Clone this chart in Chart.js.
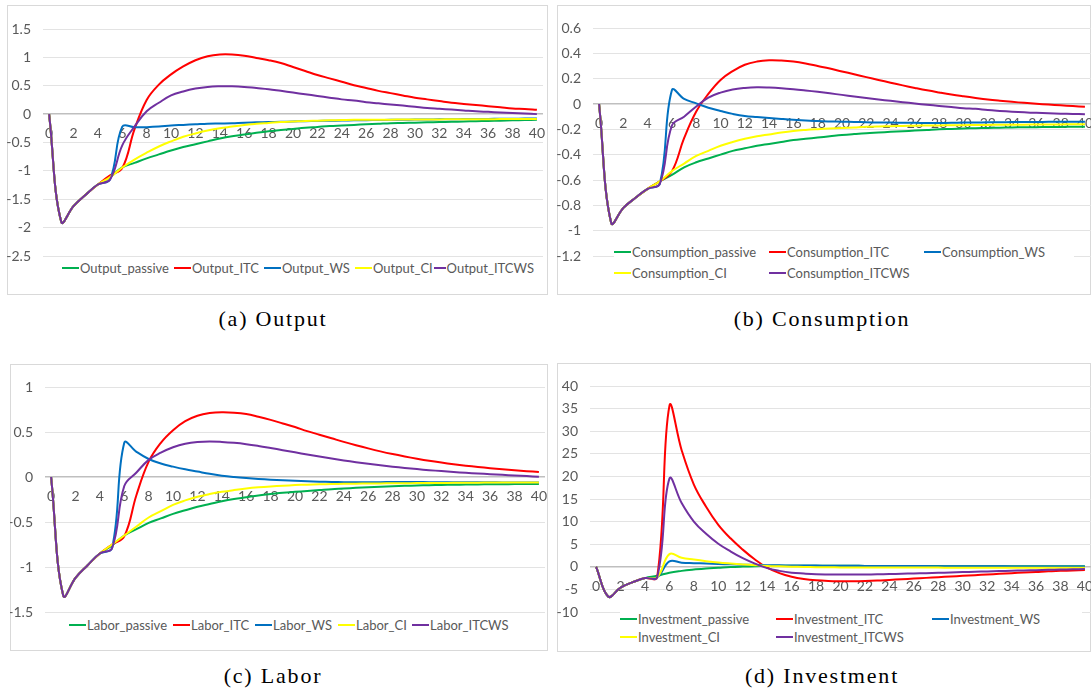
<!DOCTYPE html>
<html>
<head>
<meta charset="utf-8">
<script src="https://cdn.jsdelivr.net/npm/chart.js@4.4.1/dist/chart.umd.min.js"></script>
<style>
  body { margin: 0; width: 1091px; height: 692px; overflow: hidden; position: relative; background: #fff; font-family: Lato, sans-serif; }
  .box { position: absolute; border: 1px solid #d9d9d9; box-sizing: border-box; }
  canvas { position: absolute; }
  .legend { position: absolute; display: grid; color: #595959; font-size: 13px; background: #fff; }
  .item { display: flex; align-items: center; white-space: nowrap; }
  .item i { display: inline-block; width: 17px; height: 2px; margin-right: 1px; }
  .cap { position: absolute; font-family: "Liberation Serif", serif; font-size: 22px; letter-spacing: 1.8px; transform: translate(-50%, -50%); white-space: nowrap; }
</style>
</head>
<body>
<script>
// periods 0..40
const periods = Array.from({ length: 41 }, (_, i) => i);
const seriesNames = ["passive", "ITC", "WS", "CI", "ITCWS"];
const colors = ["#00b050", "#ff0000", "#0070c0", "#ffff00", "#7030a0"];

// (a) Output
const outputPassive = [0,-1.9,-1.62,-1.42,-1.24,-1.11,-0.94,-0.86,-0.78,-0.71,-0.64,-0.58,-0.53,-0.48,-0.43,-0.39,-0.36,-0.33,-0.3,-0.28,-0.26,-0.24,-0.225,-0.21,-0.2,-0.19,-0.18,-0.17,-0.16,-0.155,-0.15,-0.145,-0.14,-0.135,-0.13,-0.125,-0.12,-0.115,-0.11,-0.105,-0.1];
const outputITC = [0,-1.9,-1.62,-1.42,-1.24,-1.08,-0.95,-0.27,0.25,0.52,0.7,0.84,0.95,1.02,1.05,1.05,1.03,0.99,0.95,0.9,0.83,0.76,0.69,0.63,0.57,0.51,0.46,0.41,0.37,0.33,0.29,0.26,0.23,0.2,0.18,0.16,0.14,0.12,0.1,0.09,0.075];
const outputWS = [0,-1.9,-1.62,-1.42,-1.24,-1.15,-0.22,-0.23,-0.23,-0.22,-0.2,-0.19,-0.18,-0.17,-0.165,-0.16,-0.15,-0.145,-0.14,-0.135,-0.13,-0.125,-0.12,-0.117,-0.114,-0.11,-0.107,-0.104,-0.1,-0.098,-0.096,-0.094,-0.092,-0.09,-0.088,-0.086,-0.084,-0.082,-0.08,-0.079,-0.078];
const outputCI = [0,-1.9,-1.62,-1.42,-1.24,-1.11,-0.94,-0.8,-0.68,-0.57,-0.48,-0.4,-0.34,-0.29,-0.25,-0.22,-0.19,-0.17,-0.155,-0.14,-0.13,-0.12,-0.115,-0.11,-0.105,-0.1,-0.1,-0.098,-0.097,-0.096,-0.095,-0.094,-0.093,-0.092,-0.091,-0.09,-0.089,-0.088,-0.087,-0.086,-0.085];
const outputITCWS = [0,-1.9,-1.62,-1.42,-1.24,-1.15,-0.55,-0.22,0.05,0.2,0.33,0.4,0.45,0.48,0.49,0.49,0.48,0.46,0.44,0.41,0.38,0.35,0.32,0.29,0.26,0.24,0.21,0.19,0.17,0.15,0.13,0.11,0.095,0.08,0.065,0.05,0.04,0.03,0.02,0.01,0];

// (b) Consumption
const consPassive = [0,-0.94,-0.82,-0.74,-0.67,-0.61,-0.56,-0.5,-0.46,-0.43,-0.4,-0.37,-0.35,-0.33,-0.315,-0.3,-0.285,-0.275,-0.265,-0.255,-0.245,-0.237,-0.23,-0.225,-0.22,-0.215,-0.21,-0.205,-0.2,-0.197,-0.194,-0.191,-0.189,-0.187,-0.185,-0.184,-0.183,-0.182,-0.181,-0.18,-0.18];
const consITC = [0,-0.94,-0.82,-0.74,-0.67,-0.61,-0.53,-0.27,-0.06,0.08,0.19,0.26,0.31,0.335,0.345,0.343,0.335,0.32,0.3,0.28,0.257,0.235,0.212,0.19,0.168,0.147,0.127,0.108,0.091,0.075,0.061,0.048,0.036,0.026,0.017,0.009,0.002,-0.004,-0.01,-0.016,-0.022];
const consWS = [0,-0.94,-0.82,-0.74,-0.67,-0.63,0.11,0.04,0.005,-0.03,-0.055,-0.078,-0.095,-0.103,-0.11,-0.118,-0.125,-0.13,-0.135,-0.138,-0.14,-0.142,-0.144,-0.146,-0.147,-0.148,-0.149,-0.15,-0.15,-0.149,-0.147,-0.146,-0.145,-0.144,-0.143,-0.142,-0.142,-0.141,-0.141,-0.14,-0.14];
const consCI = [0,-0.94,-0.82,-0.74,-0.67,-0.61,-0.53,-0.47,-0.41,-0.37,-0.33,-0.3,-0.275,-0.255,-0.24,-0.225,-0.213,-0.205,-0.199,-0.194,-0.19,-0.185,-0.18,-0.177,-0.175,-0.173,-0.171,-0.17,-0.169,-0.168,-0.167,-0.166,-0.165,-0.164,-0.163,-0.163,-0.162,-0.161,-0.161,-0.16,-0.16];
const consITCWS = [0,-0.94,-0.82,-0.74,-0.67,-0.63,-0.17,-0.1,-0.02,0.05,0.09,0.115,0.127,0.132,0.13,0.125,0.117,0.107,0.096,0.084,0.072,0.06,0.048,0.036,0.025,0.014,0.004,-0.006,-0.015,-0.024,-0.033,-0.038,-0.048,-0.055,-0.061,-0.066,-0.07,-0.073,-0.076,-0.078,-0.08];

// (c) Labor
const laborPassive = [0,-1.32,-1.12,-0.98,-0.85,-0.76,-0.65,-0.58,-0.51,-0.46,-0.41,-0.37,-0.33,-0.3,-0.27,-0.245,-0.225,-0.205,-0.19,-0.175,-0.165,-0.155,-0.145,-0.135,-0.128,-0.12,-0.113,-0.107,-0.102,-0.098,-0.094,-0.091,-0.088,-0.086,-0.084,-0.082,-0.081,-0.08,-0.079,-0.078,-0.077];
const laborITC = [0,-1.32,-1.12,-0.98,-0.85,-0.75,-0.66,-0.2,0.17,0.38,0.52,0.62,0.68,0.71,0.72,0.715,0.7,0.67,0.635,0.595,0.555,0.51,0.47,0.43,0.39,0.353,0.318,0.285,0.255,0.228,0.203,0.18,0.16,0.142,0.126,0.111,0.098,0.086,0.075,0.065,0.055];
const laborWS = [0,-1.32,-1.12,-0.98,-0.85,-0.79,0.38,0.28,0.2,0.15,0.115,0.085,0.06,0.035,0.015,0,-0.012,-0.022,-0.03,-0.037,-0.043,-0.048,-0.052,-0.055,-0.057,-0.058,-0.058,-0.057,-0.056,-0.056,-0.056,-0.057,-0.057,-0.058,-0.058,-0.059,-0.059,-0.06,-0.06,-0.06,-0.06];
const laborCI = [0,-1.32,-1.12,-0.98,-0.85,-0.75,-0.65,-0.55,-0.45,-0.38,-0.31,-0.26,-0.22,-0.19,-0.165,-0.145,-0.128,-0.115,-0.105,-0.097,-0.09,-0.085,-0.081,-0.078,-0.076,-0.074,-0.072,-0.071,-0.07,-0.069,-0.068,-0.067,-0.066,-0.065,-0.064,-0.063,-0.062,-0.062,-0.061,-0.061,-0.06];
const laborITCWS = [0,-1.32,-1.12,-0.98,-0.85,-0.79,-0.1,0.05,0.19,0.27,0.33,0.37,0.39,0.395,0.39,0.38,0.365,0.345,0.322,0.298,0.274,0.25,0.227,0.205,0.184,0.164,0.146,0.13,0.115,0.101,0.088,0.076,0.066,0.056,0.047,0.039,0.031,0.024,0.017,0.01,0.004];

// (d) Investment
const invPassive = [0,-6.6,-4.6,-3.4,-2.5,-2.0,-1.3,-0.9,-0.6,-0.35,-0.2,-0.05,0.05,0.13,0.2,0.23,0.25,0.25,0.24,0.23,0.22,0.21,0.2,0.19,0.18,0.17,0.16,0.15,0.15,0.14,0.14,0.13,0.13,0.12,0.12,0.11,0.11,0.1,0.1,0.1,0.1];
const invITC = [0,-6.6,-4.6,-3.4,-2.5,-2.3,35.6,25.8,18.2,13.3,9.3,6.3,3.8,1.6,-0.2,-1.4,-2.2,-2.7,-3.0,-3.15,-3.2,-3.2,-3.15,-3.05,-2.9,-2.75,-2.6,-2.45,-2.3,-2.15,-2.0,-1.85,-1.7,-1.55,-1.4,-1.28,-1.15,-1.0,-0.9,-0.8,-0.7];
const invWS = [0,-6.6,-4.6,-3.4,-2.5,-2.3,1.2,0.9,0.8,0.72,0.62,0.54,0.46,0.4,0.35,0.32,0.3,0.28,0.26,0.24,0.22,0.21,0.2,0.19,0.18,0.17,0.16,0.15,0.14,0.13,0.12,0.11,0.1,0.1,0.09,0.08,0.07,0.07,0.06,0.06,0.05];
const invCI = [0,-6.6,-4.6,-3.4,-2.5,-2.3,2.8,2.0,1.6,1.25,0.95,0.72,0.52,0.35,0.2,0.1,0.02,-0.04,-0.08,-0.11,-0.13,-0.14,-0.15,-0.16,-0.17,-0.17,-0.18,-0.18,-0.18,-0.19,-0.19,-0.19,-0.19,-0.2,-0.2,-0.2,-0.2,-0.2,-0.2,-0.2,-0.2];
const invITCWS = [0,-6.6,-4.6,-3.4,-2.5,-2.3,19.5,14.1,10.0,7.3,5.1,3.4,1.9,0.7,-0.3,-0.9,-1.3,-1.5,-1.65,-1.7,-1.72,-1.72,-1.7,-1.66,-1.6,-1.54,-1.47,-1.4,-1.33,-1.25,-1.17,-1.1,-1.02,-0.95,-0.88,-0.81,-0.75,-0.68,-0.62,-0.56,-0.5];

// panel layout (page pixels)
const panels = [
  { name: "Output", series: [outputPassive, outputITC, outputWS, outputCI, outputITCWS],
    y: [-2.5, 1.5, 0.5], box: [7, 5, 541, 290], area: [43, 29, 543, 256],
    legend: { x: 62, y: 268, rowH: 20, cols: [112, 90, 91, 79, 100] },
    caption: ["(a) Output", 273, 319] },
  { name: "Consumption", series: [consPassive, consITC, consWS, consCI, consITCWS],
    y: [-1.2, 0.6, 0.2], box: [557, 5, 534, 290], area: [593, 28, 1091, 256],
    legend: { x: 614, y: 252, rowH: 21, cols: [155, 155, 150] },
    caption: ["(b) Consumption", 822, 319] },
  { name: "Labor", series: [laborPassive, laborITC, laborWS, laborCI, laborITCWS],
    y: [-1.5, 1, 0.5], box: [10, 364, 538, 287], area: [45, 387, 545, 612],
    legend: { x: 69, y: 625, rowH: 20, cols: [104, 82, 83, 74, 110] },
    caption: ["(c) Labor", 273, 676] },
  { name: "Investment", series: [invPassive, invITC, invWS, invCI, invITCWS],
    y: [-10, 40, 5], box: [557, 363, 534, 289], area: [590, 386, 1091, 612],
    legend: { x: 620, y: 619, rowH: 18, cols: [156, 156, 150] },
    caption: ["(d) Investment", 822, 676] },
];

const tickFont = { family: "Lato", size: 14 };

panels.forEach(p => {
  const [bl, bt, bw, bh] = p.box;
  const [al, at, ar, ab] = p.area;

  const box = document.createElement("div");
  box.className = "box";
  Object.assign(box.style, { left: bl + "px", top: bt + "px", width: bw + "px", height: bh + "px" });
  document.body.appendChild(box);

  const canvas = document.createElement("canvas");
  canvas.width = bw; canvas.height = bh;
  Object.assign(canvas.style, { left: bl + "px", top: bt + "px", width: bw + "px", height: bh + "px" });
  document.body.appendChild(canvas);

  const datasets = p.series.map((data, i) => ({
    label: p.name + "_" + seriesNames[i],
    data: data,
    borderColor: colors[i],
    backgroundColor: colors[i],
    borderWidth: 2,
    pointRadius: 0,
    tension: 0.4,
    fill: false,
    order: 5 - i,
  }));

  new Chart(canvas, {
    type: "line",
    data: { labels: periods, datasets: datasets },
    options: {
      responsive: false,
      animation: false,
      layout: { padding: { top: at - bt, right: bl + bw - ar, bottom: bt + bh - ab, left: 0 } },
      plugins: { legend: { display: false }, tooltip: { enabled: false } },
      scales: {
        x: {
          type: "category",
          position: { y: 0 },
          offset: true,
          afterFit: s => { s.paddingLeft = 0; s.paddingRight = 0; },
          grid: { display: false, drawTicks: false },
          border: { display: false },
          ticks: {
            autoSkip: false, maxRotation: 0, color: "#595959", font: tickFont, padding: 11,
            callback: (v, i) => (i % 2 === 0 ? String(periods[i]) : ""),
          },
        },
        y: {
          min: p.y[0], max: p.y[1],
          afterFit: s => { s.width = al - bl; },
          grid: {
            drawTicks: false,
            color: c => (c.tick && Math.abs(c.tick.value) < 1e-9 ? "#bfbfbf" : "#e3e3e3"),
            lineWidth: c => (c.tick && Math.abs(c.tick.value) < 1e-9 ? 1.5 : 1),
          },
          border: { display: false },
          ticks: {
            stepSize: p.y[2], color: "#595959", font: tickFont, padding: 12,
            callback: v => String(Math.round(v * 10) / 10),
          },
        },
      },
    },
  });

  // legend, Excel style
  const lg = document.createElement("div");
  lg.className = "legend";
  Object.assign(lg.style, {
    left: p.legend.x + "px",
    top: (p.legend.y - p.legend.rowH / 2) + "px",
    gridTemplateColumns: p.legend.cols.map(c => c + "px").join(" "),
    gridAutoRows: p.legend.rowH + "px",
  });
  datasets.forEach(d => {
    const it = document.createElement("div");
    it.className = "item";
    it.innerHTML = '<i style="background:' + d.borderColor + '"></i>' + d.label;
    lg.appendChild(it);
  });
  document.body.appendChild(lg);

  const cap = document.createElement("div");
  cap.className = "cap";
  cap.textContent = p.caption[0];
  Object.assign(cap.style, { left: p.caption[1] + "px", top: p.caption[2] + "px" });
  document.body.appendChild(cap);
});
</script>
</body>
</html>
